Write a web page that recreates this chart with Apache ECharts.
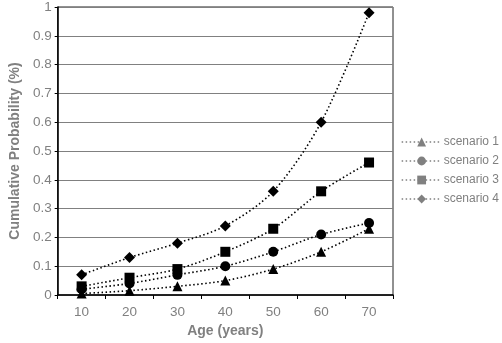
<!DOCTYPE html>
<html><head><meta charset="utf-8">
<script src="https://cdn.jsdelivr.net/npm/echarts@6/dist/echarts.min.js"></script>
<style>html,body{margin:0;padding:0;background:#fff}#c{width:502px;height:343px}</style>
</head><body><div id="c"></div>
<script>
const ages = ['10','20','30','40','50','60','70'];
const scenario1 = [0.005, 0.015, 0.03, 0.05, 0.09, 0.15, 0.23];
const scenario2 = [0.02, 0.04, 0.07, 0.10, 0.15, 0.21, 0.25];
const scenario3 = [0.03, 0.06, 0.09, 0.15, 0.23, 0.36, 0.46];
const scenario4 = [0.07, 0.13, 0.18, 0.24, 0.36, 0.60, 0.98];
const seriesNames = ['scenario 1','scenario 2','scenario 3','scenario 4'];
const yTicks = [0,0.1,0.2,0.3,0.4,0.5,0.6,0.7,0.8,0.9,1];

const symbols = ['triangle','circle','rect','diamond'];
const sizes = [10, 10, 10, 11];
const datas = [scenario1, scenario2, scenario3, scenario4];
const font = 'Liberation Sans, Arial, sans-serif';

const chart = echarts.init(document.getElementById('c'));
chart.setOption({
  animation: false,
  grid: {left: 51, right: 109, top: 5.5, bottom: 47, show: true, borderColor: '#222', borderWidth: 1},
  legend: {
    orient: 'vertical', left: 396, top: 131, itemGap: 7, itemWidth: 40, itemHeight: 11,
    data: seriesNames,
    textStyle: {color: '#808080', fontSize: 12, fontFamily: font, padding: [0,0,0,-3]},
    itemStyle: {color: '#808080'},
    lineStyle: {color: '#808080', type: [1.5, 2.5], width: 1.3}
  },
  xAxis: {
    type: 'category', data: ages, boundaryGap: true,
    name: 'Age (years)', nameLocation: 'middle', nameGap: 29,
    nameTextStyle: {color: '#808080', fontSize: 14, fontWeight: 'bold', fontFamily: font},
    axisLine: {lineStyle: {color: '#000', width: 1.5}},
    axisTick: {show: true, length: 4, lineStyle: {color: '#000'}},
    axisLabel: {color: '#808080', fontSize: 13.5, fontFamily: font, margin: 10}
  },
  yAxis: {
    type: 'value', min: 0, max: 1, interval: 0.1,
    name: 'Cumulative Probability (%)', nameLocation: 'middle', nameGap: 34, nameRotate: 90,
    nameTextStyle: {color: '#808080', fontSize: 14, fontWeight: 'bold', fontFamily: font},
    axisLine: {show: true, lineStyle: {color: '#000', width: 1.5}},
    axisTick: {show: true, length: 3, lineStyle: {color: '#000'}},
    axisLabel: {color: '#808080', fontSize: 13.5, fontFamily: font, margin: 6,
      formatter: v => yTicks.includes(+v.toFixed(1)) ? String(+v.toFixed(1)) : ''},
    splitLine: {lineStyle: {color: '#808080', width: 1}}
  },
  series: datas.map((d, i) => ({
    name: seriesNames[i], type: 'line', data: d, smooth: 0.3,
    symbol: symbols[i], symbolSize: sizes[i],
    itemStyle: {color: '#000'},
    lineStyle: {color: '#000', width: 1.6, type: [1.5, 2.5]},
    z: 3 + i
  }))
});
</script></body></html>
